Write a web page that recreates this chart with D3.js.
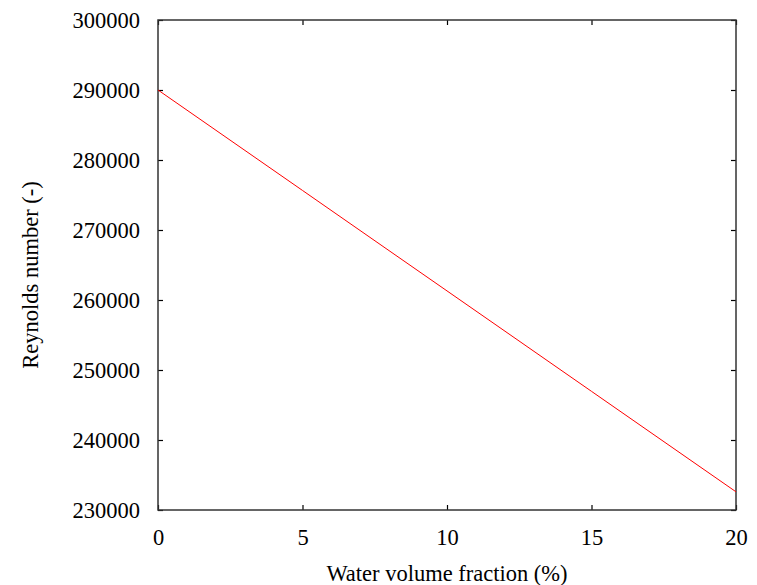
<!DOCTYPE html>
<html>
<head>
<meta charset="utf-8">
<script src="https://cdn.jsdelivr.net/npm/d3@7"></script>
<style>
  body { margin: 0; background: #fff; }
</style>
</head>
<body>
<svg id="chart" width="757" height="585"></svg>
<script>
// Reynolds number versus water volume fraction
const waterFraction = [0, 5, 10, 15, 20];
const reynolds = [290000, 275650, 261300, 246950, 232600];
const xTicks = [0, 5, 10, 15, 20];
const yTicks = [230000, 240000, 250000, 260000, 270000, 280000, 290000, 300000];
const xTitle = "Water volume fraction (%)";
const yTitle = "Reynolds number (-)";

const FONT = "'Liberation Serif', 'Times New Roman', serif";
const svg = d3.select("#chart");
const margin = { left: 158, right: 21, top: 20, bottom: 75 };
const W = 757, H = 585;
const x = d3.scaleLinear().domain([0, 20]).range([margin.left, W - margin.right]);
const y = d3.scaleLinear().domain([230000, 300000]).range([H - margin.bottom, margin.top]);

const tickLen = 5;
const fs = 22.5;

// bottom axis with labels, ticks pointing inward
const gx = svg.append("g").attr("transform", `translate(0,${y.range()[0]})`)
  .call(d3.axisBottom(x).tickValues(xTicks).tickFormat(d3.format("d")).tickSizeInner(-tickLen).tickSizeOuter(0));
// left axis with labels
const gy = svg.append("g").attr("transform", `translate(${x.range()[0]},0)`)
  .call(d3.axisLeft(y).tickValues(yTicks).tickFormat(d3.format("d")).tickSizeInner(-tickLen).tickSizeOuter(0).tickPadding(18));
// mirrored top and right ticks
const gt = svg.append("g").attr("transform", `translate(0,${y.range()[1]})`)
  .call(d3.axisTop(x).tickValues(xTicks).tickFormat("").tickSizeInner(-tickLen).tickSizeOuter(0));
const gr = svg.append("g").attr("transform", `translate(${x.range()[1]},0)`)
  .call(d3.axisRight(y).tickValues(yTicks).tickFormat("").tickSizeInner(-tickLen).tickSizeOuter(0));

[gx, gy, gt, gr].forEach(g => {
  g.attr("font-family", null).attr("font-size", null);
  g.select(".domain").remove();
  g.selectAll(".tick line").attr("stroke", "#000").attr("stroke-width", 1.2);
  g.selectAll(".tick text").style("font-family", FONT).style("font-size", fs + "px").attr("fill", "#000");
});
gx.selectAll(".tick text").attr("dy", null).attr("y", 35);
gy.selectAll(".tick text").attr("dy", "0.35em");

// frame
svg.append("rect")
  .attr("x", x.range()[0]).attr("y", y.range()[1])
  .attr("width", x.range()[1] - x.range()[0])
  .attr("height", y.range()[0] - y.range()[1])
  .attr("fill", "none").attr("stroke", "#333").attr("stroke-width", 1.5);

// data line
svg.append("path")
  .datum(waterFraction.map((d, i) => [d, reynolds[i]]))
  .attr("fill", "none")
  .attr("stroke", "#ff0000")
  .attr("stroke-width", 1)
  .attr("d", d3.line().x(d => x(d[0])).y(d => y(d[1])));

// axis titles
svg.append("text")
  .attr("x", (x.range()[0] + x.range()[1]) / 2)
  .attr("y", 581)
  .attr("text-anchor", "middle")
  .style("font-family", FONT).style("font-size", fs + "px")
  .text(xTitle);

svg.append("text")
  .attr("transform", `translate(38,275) rotate(-90)`)
  .attr("text-anchor", "middle")
  .style("font-family", FONT).style("font-size", fs + "px")
  .text(yTitle);
</script>
</body>
</html>
